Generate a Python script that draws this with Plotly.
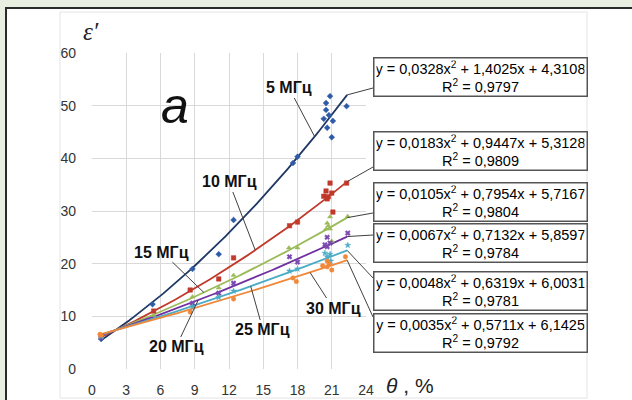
import numpy as np
import plotly.graph_objects as go

# ---------------- data ----------------
series_names = ["5 МГц", "10 МГц", "15 МГц", "20 МГц", "25 МГц", "30 МГц"]

theta_5 = [0.8, 5.3, 8.8, 11.1, 12.4, 17.6, 18.0, 20.85, 20.5, 20.5, 20.75, 20.3, 21.1, 20.6, 21.0, 22.3]
eps_5 = [5.7, 12.3, 19.0, 21.8, 28.3, 39.1, 40.3, 51.8, 50.5, 49.2, 48.2, 47.5, 47.1, 45.8, 44.0, 49.9]

theta_10 = [0.8, 5.4, 8.6, 11.1, 12.4, 17.3, 18.0, 20.85, 20.5, 20.3, 20.7, 20.6, 21.0, 21.1, 22.3]
eps_10 = [6.3, 11.0, 15.0, 17.1, 21.1, 27.2, 27.9, 35.3, 33.8, 32.8, 32.7, 32.3, 33.4, 29.8, 35.3]

theta_15 = [0.8, 5.4, 8.8, 11.1, 12.4, 17.25, 18.0, 20.85, 20.6, 20.7, 20.5, 20.85, 21.0, 22.4]
eps_15 = [6.1, 10.2, 13.7, 15.4, 17.8, 23.0, 23.0, 28.9, 27.7, 27.2, 26.6, 26.6, 24.3, 29.0]

theta_20 = [0.8, 8.8, 11.1, 12.4, 17.3, 18.0, 20.6, 20.85, 20.6, 20.4, 22.4]
eps_20 = [6.0, 12.5, 14.4, 16.3, 21.3, 20.3, 25.0, 23.9, 23.2, 23.6, 25.8]

theta_25 = [0.8, 8.8, 11.1, 12.4, 17.3, 18.0, 20.6, 20.85, 20.9, 20.4, 22.4]
eps_25 = [6.2, 11.8, 13.6, 14.8, 18.6, 19.0, 21.3, 21.8, 20.5, 22.0, 23.5]

theta_30 = [0.7, 0.8, 8.6, 12.4, 17.6, 17.9, 20.2, 20.6, 20.8, 21.0, 20.6, 22.2]
eps_30 = [6.6, 6.4, 10.8, 13.3, 17.3, 16.6, 19.6, 19.4, 20.0, 18.8, 20.5, 21.3]

# trendline coefficients (a, b, c) and R^2 as printed on the chart
coef_a = [0.0328, 0.0183, 0.0105, 0.0067, 0.0048, 0.0035]
coef_b = [1.4025, 0.9447, 0.7954, 0.7132, 0.6319, 0.5711]
coef_c = [4.3108, 5.3128, 5.7167, 5.8597, 6.0031, 6.1425]
r2 = ["0,9797", "0,9809", "0,9804", "0,9784", "0,9781", "0,9792"]
eq_a = ["0,0328", "0,0183", "0,0105", "0,0067", "0,0048", "0,0035"]
eq_b = ["1,4025", "0,9447", "0,7954", "0,7132", "0,6319", "0,5711"]
eq_c = ["4,3108", "5,3128", "5,7167", "5,8597", "6,0031", "6,1425"]

trend_x_start = 0.8
trend_x_end = 22.35

x_ticks = [0, 3, 6, 9, 12, 15, 18, 21, 24]
y_ticks = [0, 10, 20, 30, 40, 50, 60]

# ---------------- styles ----------------
line_colors = ["#1f3864", "#c0392b", "#9bbb59", "#7030a0", "#4bacc6", "#f0883a"]
marker_colors = ["#2f5aa8", "#c0392b", "#9bbb59", "#7a48b0", "#4bacc6", "#f0883a"]
marker_symbols = ["diamond", "square", "triangle-up", "x", "star", "circle"]

W, H = 632, 400
L, R, T, B = 92, 366, 53, 369


def px(x):
    return (x - L) / (R - L)


def py(y):
    return (B - y) / (B - T)


fig = go.Figure()

thetas = [theta_5, theta_10, theta_15, theta_20, theta_25, theta_30]
epss = [eps_5, eps_10, eps_15, eps_20, eps_25, eps_30]

xf = np.linspace(trend_x_start, trend_x_end, 80)
for i in range(6):
    yf = coef_a[i] * xf ** 2 + coef_b[i] * xf + coef_c[i]
    fig.add_trace(go.Scatter(x=xf, y=yf, mode="lines",
                             line=dict(color=line_colors[i], width=1.8),
                             showlegend=False, hoverinfo="skip"))
for i in range(6):
    fig.add_trace(go.Scatter(x=thetas[i], y=epss[i], mode="markers",
                             marker=dict(color=marker_colors[i], size=4.5,
                                         symbol=marker_symbols[i],
                                         line=dict(width=0.5, color=marker_colors[i])),
                             name=series_names[i], showlegend=False))

shapes = []
# outer frame (white panel with dark border)
shapes.append(dict(type="rect", xref="paper", yref="paper",
                   x0=px(6), x1=px(720), y0=py(8), y1=py(460),
                   line=dict(color="#2b2b2b", width=2), fillcolor="white", layer="below"))
# chart area faint border
shapes.append(dict(type="rect", xref="paper", yref="paper",
                   x0=px(60), x1=px(587), y0=py(12), y1=py(398),
                   line=dict(color="#e4e4e4", width=1), fillcolor="rgba(0,0,0,0)", layer="below"))

# equation boxes
box_centers_px = [77.5, 150.5, 202, 243, 291, 333]
box_attach_px = [88, 167, 213, 235, 278, 317]
annotations = []
for i in range(6):
    txt = ("y = %sx<sup>2</sup> + %sx + %s<br>R<sup>2</sup> = %s"
           % (eq_a[i], eq_b[i], eq_c[i], r2[i]))
    annotations.append(dict(xref="paper", yref="paper", x=px(480), y=py(box_centers_px[i]),
                            xanchor="center", yanchor="middle", showarrow=False,
                            text=txt, align="center", width=208, height=33,
                            bgcolor="white", bordercolor="#555555", borderwidth=1.5,
                            borderpad=2,
                            font=dict(family="Liberation Sans", size=14.5, color="#000000")))
    yend = coef_a[i] * trend_x_end ** 2 + coef_b[i] * trend_x_end + coef_c[i]
    shapes.append(dict(type="line", xref="paper", yref="paper",
                       x0=trend_x_end / 24, y0=yend / 60,
                       x1=px(373), y1=py(box_attach_px[i]),
                       line=dict(color="#404040", width=1)))

# frequency labels with leader lines
label_target_x = [19.5, 14.3, 9.8, 9.3, 13.9, 19.1]
label_center_px = [(289, 88), (229, 182), (162, 252), (176, 347), (263, 330), (333, 308)]
for i in range(6):
    tx = label_target_x[i]
    ty = coef_a[i] * tx ** 2 + coef_b[i] * tx + coef_c[i]
    tpx = L + tx / 24 * (R - L)
    tpy = B - ty / 60 * (B - T)
    cx, cy = label_center_px[i]
    annotations.append(dict(x=tx, y=ty, xref="x", yref="y",
                            ax=cx - tpx, ay=cy - tpy, axref="pixel", ayref="pixel",
                            showarrow=True, arrowhead=0, arrowwidth=1, arrowcolor="#404040",
                            text="<b>%s</b>" % series_names[i],
                            font=dict(family="Liberation Sans", size=16, color="#111111")))

# big letter "a"
annotations.append(dict(xref="paper", yref="paper", x=px(175), y=py(106), showarrow=False,
                        xanchor="center", yanchor="middle", text="<i>a</i>",
                        font=dict(family="Liberation Sans", size=50, color="#111111")))
# axis titles
annotations.append(dict(xref="paper", yref="paper", x=px(91), y=py(31), showarrow=False,
                        xanchor="center", yanchor="middle", text="<i>ε′</i>",
                        font=dict(family="Liberation Serif", size=25, color="#222222")))
annotations.append(dict(xref="paper", yref="paper", x=px(410), y=py(385), showarrow=False,
                        xanchor="center", yanchor="middle", text="<i>θ</i> , %",
                        font=dict(family="Liberation Sans", size=21, color="#222222")))

fig.update_layout(
    width=W, height=H,
    margin=dict(l=L, r=W - R, t=T, b=H - B, pad=0, autoexpand=False),
    paper_bgcolor="#eaf0e1",
    plot_bgcolor="white",
    shapes=shapes,
    annotations=annotations,
    showlegend=False,
    xaxis=dict(range=[0, 24], tickvals=x_ticks, ticktext=[str(v) for v in x_ticks],
               showgrid=True, gridcolor="#d9d9d9", gridwidth=1, zeroline=False,
               showline=False, ticks="", ticklabelstandoff=11, automargin=False,
               tickfont=dict(family="Liberation Sans", size=14, color="#333333")),
    yaxis=dict(range=[0, 60], tickvals=y_ticks, ticktext=[str(v) for v in y_ticks],
               showgrid=True, gridcolor="#d9d9d9", gridwidth=1, zeroline=False,
               showline=False, ticks="", ticklabelstandoff=15, automargin=False,
               tickfont=dict(family="Liberation Sans", size=14, color="#333333")),
)

fig.write_html("out.html", config={"displayModeBar": False},
               post_script="document.body.style.margin='0';document.body.style.overflow='hidden';")
